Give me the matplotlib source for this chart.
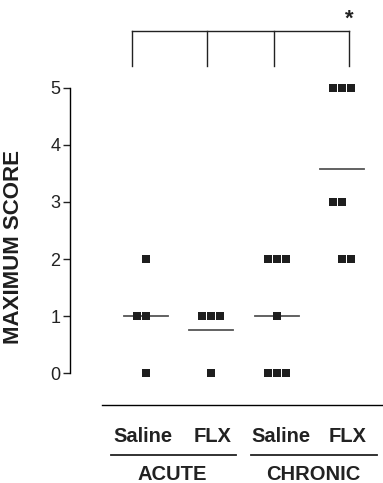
import matplotlib
matplotlib.use("Agg")
import matplotlib.pyplot as plt
import numpy as np

plt.rcParams['font.family'] = ['Liberation Sans', 'DejaVu Sans']

# ---- data ----
groups = ["Acute Saline", "Acute FLX", "Chronic Saline", "Chronic FLX"]
acute_saline = [2, 1, 1, 0]
acute_flx = [1, 1, 1, 0]
chronic_saline = [2, 2, 2, 1, 0, 0, 0]
chronic_flx = [5, 5, 5, 3, 3, 2, 2]
# horizontal slot of each point (dodge), same order as values
acute_saline_slot = [0, -1, 0, 0]
acute_flx_slot = [-1, 0, 1, 0]
chronic_saline_slot = [-1, 0, 1, 0, -1, 0, 1]
chronic_flx_slot = [-1, 0, 1, -1, 0, 0, 1]
sub_labels = ["Saline", "FLX", "Saline", "FLX"]
main_labels = ["ACUTE", "CHRONIC"]
yticks = [0, 1, 2, 3, 4, 5]
ylabel = "MAXIMUM SCORE"

values = [acute_saline, acute_flx, chronic_saline, chronic_flx]
slots = [acute_saline_slot, acute_flx_slot, chronic_saline_slot, chronic_flx_slot]

W, H = 383, 483
fig = plt.figure(figsize=(W / 100, H / 100), dpi=100)

def fx(px):
    return px / W

def fy(py):
    return 1 - py / H

# axes: left spine at x=70px, bottom at y=405px, top at 10px
ax = fig.add_axes([fx(70), fy(405), fx(383) - fx(70), fy(10) - fy(405)])
ax.set_xlim(-1.164, 3.63)
ax.set_ylim(-0.561, 6.368)

dx = 0.138
for i, (vals, sl) in enumerate(zip(values, slots)):
    xs = i + np.array(sl) * dx
    ax.plot(xs, vals, linestyle='none', marker='s', markersize=5.6,
            color='#1e1e1e', markeredgewidth=0, zorder=3, clip_on=False)
    m = np.mean(vals)
    ax.plot([i - 0.337, i + 0.337], [m, m], color='#555555', lw=1.3, zorder=2)

# spines
for s in ['top', 'right']:
    ax.spines[s].set_visible(False)
ax.spines['left'].set_bounds(0, 5)
ax.spines['left'].set_linewidth(1.0)
ax.spines['bottom'].set_bounds(-0.674, 3.63)
ax.spines['bottom'].set_linewidth(1.0)
ax.set_xticks([])
ax.set_yticks(yticks)
ax.tick_params(axis='y', direction='out', length=5, width=1.0, pad=2,
               labelsize=13, colors='#222222')
ax.set_ylabel(ylabel, fontsize=16, fontweight='bold', color='#1e1e1e')
ax.yaxis.set_label_coords(-0.147, 0.40)

# significance bracket
bx = [-0.214, 0.934, 1.96, 3.109]
ytop, ybot = 6.0, 5.386
ax.plot([bx[0], bx[-1]], [ytop, ytop], color='#222222', lw=1.0, clip_on=False)
for b in bx:
    ax.plot([b, b], [ytop, ybot], color='#222222', lw=1.0, clip_on=False)
ax.text(bx[-1], 6.2, "*", ha='center', va='center', fontsize=16,
        fontweight='bold', color='#222222')

# group labels below
sub_x = [143, 213, 281, 348]
for xp, lab in zip(sub_x, sub_labels):
    fig.text(fx(xp), fy(437), lab, ha='center', va='center',
             fontsize=14.5, fontweight='bold', color='#222222')
for (x0, x1) in [(111, 236), (251, 377)]:
    fig.add_artist(plt.Line2D([fx(x0), fx(x1)], [fy(455), fy(455)],
                              color='#222222', lw=1.3))
for xp, lab in zip([172, 313], main_labels):
    fig.text(fx(xp), fy(475), lab, ha='center', va='center',
             fontsize=14.5, fontweight='bold', color='#222222')

fig.savefig("out.png", dpi=100)
